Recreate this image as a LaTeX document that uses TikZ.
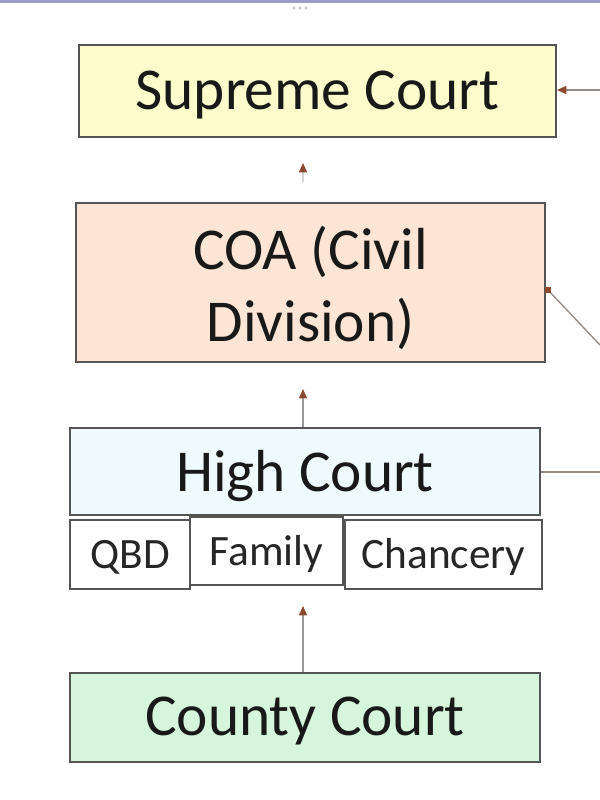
\documentclass[tikz,border=0pt]{standalone}
\usepackage{fontspec}
\setmainfont{Carlito}
\usetikzlibrary{arrows.meta,calc}
\definecolor{supfill}{HTML}{FBFBCB}
\definecolor{coafill}{HTML}{FCE5D4}
\definecolor{hcfill}{HTML}{EEFAFD}
\definecolor{ccfill}{HTML}{D5F5DC}
\definecolor{edge}{HTML}{555555}
\definecolor{conn}{HTML}{9A9A9A}
\definecolor{tip}{HTML}{8B4A2F}
\tikzset{
  court/.style={draw=edge, line width=1.4pt, inner sep=0pt},
  courttext/.style={font=\fontsize{44.5}{54}\selectfont, text=black!90, align=center, inner sep=0pt, yshift=-3pt},
  divbox/.style={draw=edge, line width=1.2pt, fill=white, inner sep=0pt},
  divtext/.style={font=\fontsize{32.5}{38}\selectfont, text=black!85, inner sep=0pt, yshift=-2pt},
  tipstyle/.style={-{Triangle[length=7pt,width=6pt,color=tip]}},
  upline/.style={draw=conn, line width=1.2pt, tipstyle},
  sideline/.style={draw=conn!80!tip, line width=1pt}
}
\begin{document}
\begin{tikzpicture}[x=0.75pt,y=-0.75pt]
\useasboundingbox (0,0) rectangle (600,800);
\fill[white] (0,0) rectangle (600,800);
\fill[blue!30!gray!60] (0,0) rectangle (600,3);
\foreach \dx in {-6,0,6} \fill[gray!45] (300+\dx,8) circle (1.6);

\node[court, fill=supfill, minimum width=477*0.75pt, minimum height=92*0.75pt,
  label={[courttext]center:Supreme Court}] (sup) at (317.5,91) {};
\node[court, fill=coafill, minimum width=469*0.75pt, minimum height=159*0.75pt,
  label={[courttext, yshift=-1pt]center:COA (Civil\\Division)}] (coa) at (310.5,282.5) {};
\node[court, fill=hcfill, minimum width=470*0.75pt, minimum height=87*0.75pt,
  label={[courttext]center:High Court}] (hc) at (305,471.5) {};
\node[divbox, minimum width=120*0.75pt, minimum height=69*0.75pt,
  label={[divtext]center:QBD}] (qbd) at (130,554.5) {};
\node[divbox, minimum width=153*0.75pt, minimum height=68*0.75pt,
  label={[divtext]center:Family}] (fam) at (266.5,551) {};
\node[divbox, minimum width=197*0.75pt, minimum height=69*0.75pt,
  label={[divtext]center:Chancery}] (chan) at (443.5,554.5) {};
\node[court, fill=ccfill, minimum width=470*0.75pt, minimum height=89*0.75pt,
  label={[courttext]center:County Court}] (cc) at (305,717.5) {};

\coordinate (t1) at (303,163);
\coordinate (b1) at (303,182);
\coordinate (t2) at (303,389);
\coordinate (t3) at (303,606);
\draw[upline, draw=conn!45] (b1) -- (t1);
\draw[upline] (hc.north -| t2) -- (t2);
\draw[upline] (cc.north -| t3) -- (t3);

\coordinate (r1) at (600,90);
\coordinate (r2) at (600,345);
\coordinate (r3) at (600,472);
\coordinate (c2) at (548,290);
\draw[sideline, tipstyle] (r1) -- (sup.east |- r1);
\draw[sideline] (r2) -- (c2);
\fill[tip] ($(c2)+(-3,-3)$) rectangle ($(c2)+(3,3)$);
\draw[sideline] (r3) -- (hc.east |- r3);
\end{tikzpicture}
\end{document}
